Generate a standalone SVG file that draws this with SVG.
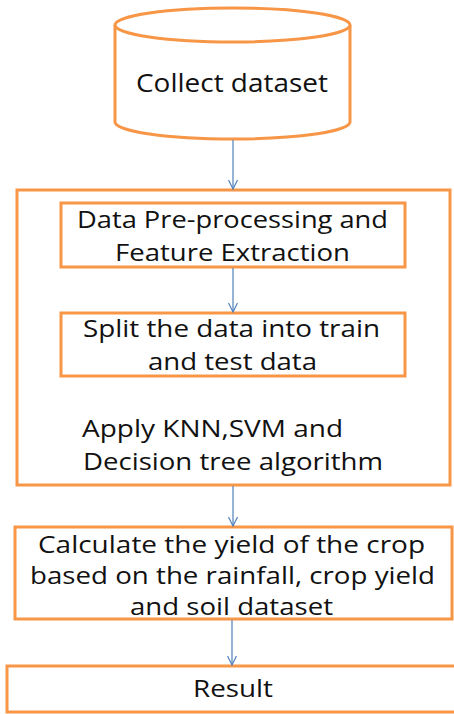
<svg xmlns="http://www.w3.org/2000/svg" width="454" height="714" viewBox="0 0 454 714">
<style>
.box{fill:#fff;stroke:#F79646;stroke-width:3}
.in{fill:none;stroke:#F79646;stroke-width:3}
.t{font-family:"Open Sans","Noto Sans",sans-serif;fill:#111;font-size:23px}
.l{font-size:24px}
.c{stroke:#4F81BD;stroke-width:1.2;fill:none}
</style>
<defs>
<marker id="ah" markerUnits="userSpaceOnUse" markerWidth="12" markerHeight="10" refX="10" refY="5" orient="auto">
<path d="M1,0.5 L10,5 L1,9.5" fill="none" stroke="#4F81BD" stroke-width="1.2"/>
</marker>
</defs>
<rect width="454" height="714" fill="#fff"/>
<g id="outer">
<rect class="box" x="17" y="190" width="433" height="295"/>
<text class="t l" x="82" y="437" textLength="261" lengthAdjust="spacingAndGlyphs">Apply KNN,SVM and</text>
<text class="t l" x="83" y="470" textLength="300" lengthAdjust="spacingAndGlyphs">Decision tree algorithm</text>
</g>
<g id="collect">
<path class="box" d="M115,25 L115,122 A117.5,17 0 0 0 350,122 L350,25"/>
<ellipse class="box" cx="232.5" cy="25" rx="117.5" ry="17"/>
<text class="t" x="136" y="92" textLength="192" lengthAdjust="spacingAndGlyphs" style="font-size:25px">Collect dataset</text>
</g>
<g id="preprocess">
<rect class="in" x="61" y="203" width="344" height="64"/>
<text class="t" x="77" y="228" textLength="311" lengthAdjust="spacingAndGlyphs">Data Pre-processing and</text>
<text class="t" x="115" y="261" textLength="235" lengthAdjust="spacingAndGlyphs">Feature Extraction</text>
</g>
<g id="split">
<rect class="in" x="61" y="313" width="344" height="63"/>
<text class="t" x="83" y="337" textLength="297" lengthAdjust="spacingAndGlyphs">Split the data into train</text>
<text class="t" x="148" y="370" textLength="169" lengthAdjust="spacingAndGlyphs">and test data</text>
</g>
<g id="calculate">
<rect class="box" x="15" y="527" width="437" height="92"/>
<text class="t l" x="38" y="553" textLength="387" lengthAdjust="spacingAndGlyphs">Calculate the yield of the crop</text>
<text class="t l" x="30" y="584" textLength="405" lengthAdjust="spacingAndGlyphs">based on the rainfall, crop yield</text>
<text class="t l" x="130" y="615" textLength="203" lengthAdjust="spacingAndGlyphs">and soil dataset</text>
</g>
<g id="result">
<rect class="box" x="7" y="666" width="450" height="46"/>
<text class="t l" x="193" y="697" textLength="80" lengthAdjust="spacingAndGlyphs">Result</text>
</g>
<g id="connectors">
<line class="c" x1="233" y1="140" x2="233" y2="189" marker-end="url(#ah)"/>
<line class="c" x1="233" y1="268" x2="233" y2="312" marker-end="url(#ah)"/>
<line class="c" x1="233" y1="486" x2="233" y2="526" marker-end="url(#ah)"/>
<line class="c" x1="232" y1="620" x2="232" y2="665" marker-end="url(#ah)"/>
</g>
</svg>
